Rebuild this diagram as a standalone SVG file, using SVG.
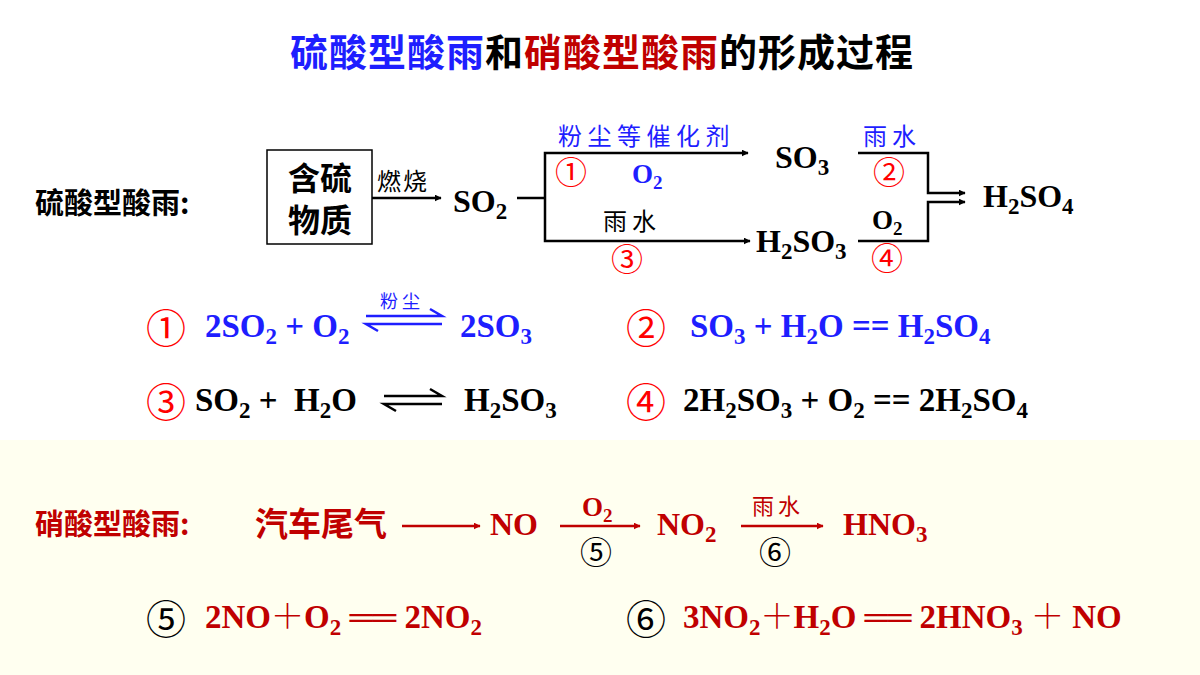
<svg xmlns="http://www.w3.org/2000/svg" width="1200" height="675" viewBox="0 0 1200 675">
<defs>
<marker id="ah" viewBox="0 0 10 10" refX="9" refY="5" markerWidth="7" markerHeight="7" orient="auto" markerUnits="userSpaceOnUse"><path d="M0,0 L10,5 L0,10 z" fill="context-stroke"/></marker>
<style>
.f{font-family:"Liberation Serif","Noto Serif CJK SC","Noto Sans CJK SC",serif;font-weight:bold}
.c{font-family:"Noto Sans CJK SC",sans-serif;font-weight:bold}
.cn{font-family:"Noto Sans CJK SC",sans-serif}
.ci{font-family:"Noto Sans CJK SC",sans-serif;font-size:40px}
.cs{font-family:"Noto Sans CJK SC",sans-serif;font-size:32px}
.bl{fill:#1e1eff}.rd{fill:#ff0000}.dr{fill:#c00000}.k{fill:#000}
.ln{stroke:#000;stroke-width:2.5;fill:none}
</style>
</defs>
<rect x="0" y="0" width="1200" height="675" fill="#fff"/>
<rect x="0" y="440" width="1200" height="235" fill="#fffff0"/>
<g id="title"><text x="602" y="66" text-anchor="middle" class="c" font-size="38" letter-spacing="1"><tspan class="bl">硫酸型酸雨</tspan><tspan class="k">和</tspan><tspan class="dr">硝酸型酸雨</tspan><tspan class="k">的形成过程</tspan></text></g>
<g id="connectors">
<line class="ln" x1="372" y1="198" x2="441" y2="198" marker-end="url(#ah)"/>
<polyline class="ln" points="517,198 545,198"/>
<polyline class="ln" points="545,198 545,153 748,153" marker-end="url(#ah)"/>
<polyline class="ln" points="545,198 545,241 750,241" marker-end="url(#ah)"/>
<polyline class="ln" points="858,153 928,153 928,193 965,193" marker-end="url(#ah)"/>
<polyline class="ln" points="858,241 928,241 928,202 965,202" marker-end="url(#ah)"/>
</g>
<g id="label-s"><text x="35" y="214" class="c k" font-size="29">硫酸型酸雨:</text></g>
<g id="node-src"><rect x="267" y="150" width="105" height="94" fill="#fff" stroke="#000" stroke-width="1.5"/><text x="320" y="190" text-anchor="middle" class="c k" font-size="32">含硫</text><text x="320" y="232" text-anchor="middle" class="c k" font-size="32">物质</text></g>
<text x="377" y="190" class="cn k" font-size="24" letter-spacing="2">燃烧</text>
<g id="node-so2"><text x="453" y="212" class="f k" font-size="32">SO<tspan font-size="23" dy="7">2</tspan></text></g>
<text x="558" y="145" class="cn bl" font-size="24" letter-spacing="5.5">粉尘等催化剂</text>
<text x="555" y="184" class="cs rd">①</text>
<text x="632" y="183" class="f bl" font-size="27">O<tspan font-size="19" dy="6">2</tspan></text>
<text x="603" y="230" class="cn k" font-size="24" letter-spacing="5">雨水</text>
<text x="611" y="271" class="cs rd">③</text>
<g id="node-so3"><text x="775" y="168" class="f k" font-size="32">SO<tspan font-size="23" dy="7">3</tspan></text></g>
<g id="node-h2so3"><text x="756" y="252" class="f k" font-size="32">H<tspan font-size="23" dy="7">2</tspan><tspan dy="-7">SO</tspan><tspan font-size="23" dy="7">3</tspan></text></g>
<text x="863" y="145" class="cn bl" font-size="24" letter-spacing="5">雨水</text>
<text x="873" y="184" class="cs rd">②</text>
<text x="872" y="229" class="f k" font-size="27">O<tspan font-size="19" dy="6">2</tspan></text>
<text x="871" y="270" class="cs rd">④</text>
<g id="node-h2so4"><text x="983" y="207" class="f k" font-size="32">H<tspan font-size="23" dy="7">2</tspan><tspan dy="-7">SO</tspan><tspan font-size="23" dy="7">4</tspan></text></g>

<g id="eq1">
<text x="146" y="343" class="ci rd">①</text>
<text x="205" y="337" class="f bl" font-size="33">2SO<tspan font-size="23" dy="7">2</tspan><tspan dy="-7"> + O</tspan><tspan font-size="23" dy="7">2</tspan></text>
<text x="380" y="308" class="cn bl" font-size="18" letter-spacing="4">粉尘</text>
<path d="M366,316 H442 L430,309 M442,324 H366 L378,331" stroke="#1e1eff" stroke-width="2.5" fill="none"/>
<text x="460" y="337" class="f bl" font-size="33">2SO<tspan font-size="23" dy="7">3</tspan></text>
</g>
<g id="eq2">
<text x="626" y="343" class="ci rd">②</text>
<text x="690" y="337" class="f bl" font-size="33">SO<tspan font-size="23" dy="7">3</tspan><tspan dy="-7"> + H</tspan><tspan font-size="23" dy="7">2</tspan><tspan dy="-7">O == H</tspan><tspan font-size="23" dy="7">2</tspan><tspan dy="-7">SO</tspan><tspan font-size="23" dy="7">4</tspan></text>
</g>
<g id="eq3">
<text x="146" y="417" class="ci rd">③</text>
<text x="195" y="411" class="f k" font-size="33" xml:space="preserve">SO<tspan font-size="23" dy="7">2</tspan><tspan dy="-7"> +  H</tspan><tspan font-size="23" dy="7">2</tspan><tspan dy="-7">O</tspan></text>
<path d="M384,396 H442 L430,389 M442,404 H384 L396,411" stroke="#000" stroke-width="2.5" fill="none"/>
<text x="464" y="411" class="f k" font-size="33">H<tspan font-size="23" dy="7">2</tspan><tspan dy="-7">SO</tspan><tspan font-size="23" dy="7">3</tspan></text>
</g>
<g id="eq4">
<text x="626" y="417" class="ci rd">④</text>
<text x="683" y="411" class="f k" font-size="33">2H<tspan font-size="23" dy="7">2</tspan><tspan dy="-7">SO</tspan><tspan font-size="23" dy="7">3</tspan><tspan dy="-7"> + O</tspan><tspan font-size="23" dy="7">2</tspan><tspan dy="-7"> == 2H</tspan><tspan font-size="23" dy="7">2</tspan><tspan dy="-7">SO</tspan><tspan font-size="23" dy="7">4</tspan></text>
</g>

<g id="label-n"><text x="35" y="535" class="c dr" font-size="29">硝酸型酸雨:</text></g>
<g id="connectors-n">
<line x1="402" y1="526" x2="480" y2="526" stroke="#c00000" stroke-width="2.5" marker-end="url(#ah)"/>
<line x1="560" y1="526" x2="640" y2="526" stroke="#c00000" stroke-width="2.5" marker-end="url(#ah)"/>
<line x1="741" y1="526" x2="823" y2="526" stroke="#c00000" stroke-width="2.5" marker-end="url(#ah)"/>
</g>
<g id="node-car"><text x="255" y="536" class="c dr" font-size="33">汽车尾气</text></g>
<g id="node-no"><text x="490" y="535" class="f dr" font-size="32">NO</text></g>
<text x="582" y="516" class="f dr" font-size="27">O<tspan font-size="19" dy="6">2</tspan></text>
<text x="580" y="564" class="cs k">⑤</text>
<g id="node-no2"><text x="657" y="535" class="f dr" font-size="32">NO<tspan font-size="23" dy="7">2</tspan></text></g>
<text x="752" y="514" class="cn dr" font-size="22" letter-spacing="4">雨水</text>
<text x="759" y="564" class="cs k">⑥</text>
<g id="node-hno3"><text x="843" y="535" class="f dr" font-size="32">HNO<tspan font-size="23" dy="7">3</tspan></text></g>

<g id="eq5">
<text x="146" y="634" class="ci k">⑤</text>
<text x="205" y="628" class="f dr" font-size="33">2NO＋O<tspan font-size="23" dy="7">2</tspan><tspan dy="-7"> ══ 2NO</tspan><tspan font-size="23" dy="7">2</tspan></text>
</g>
<g id="eq6">
<text x="626" y="634" class="ci k">⑥</text>
<text x="683" y="628" class="f dr" font-size="33">3NO<tspan font-size="23" dy="7">2</tspan><tspan dy="-7">＋H</tspan><tspan font-size="23" dy="7">2</tspan><tspan dy="-7">O ══ 2HNO</tspan><tspan font-size="23" dy="7">3</tspan><tspan dy="-7"> ＋ NO</tspan></text>
</g>
</svg>
